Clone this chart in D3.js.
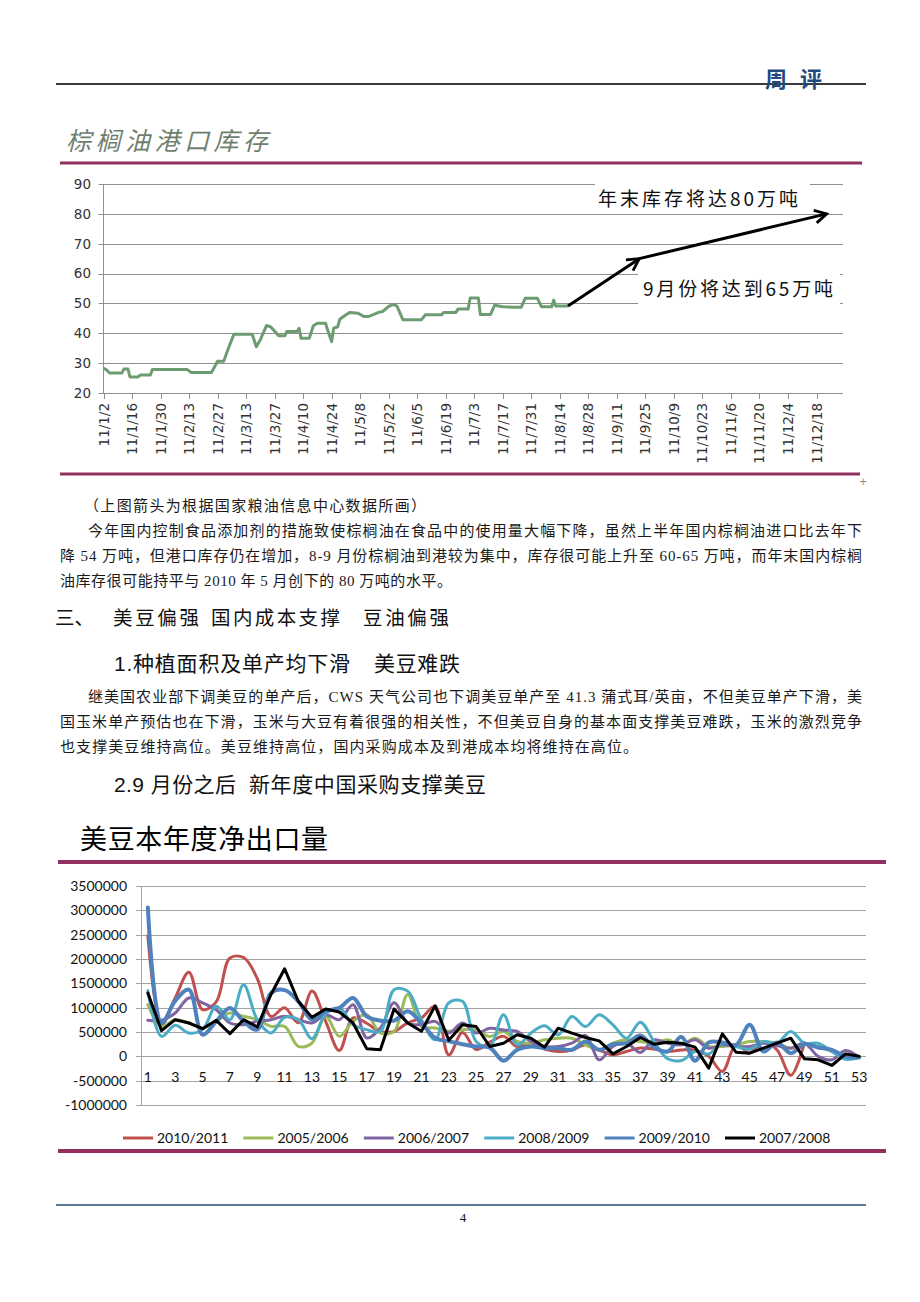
<!DOCTYPE html>
<html><head><meta charset="utf-8">
<script src="https://cdn.jsdelivr.net/npm/d3@7"></script>
<style>body{margin:0;background:#fff}svg{display:block}</style>
</head><body><svg id="page" width="920" height="1302"></svg>
<script>
// ---------- Chart 1: palm oil port stocks (万吨) ----------
const palmDates = ["2011-01-02","2011-01-03","2011-01-05","2011-01-11","2011-01-12","2011-01-14","2011-01-15","2011-01-19","2011-01-20","2011-01-25","2011-01-26","2011-02-12","2011-02-14","2011-02-24","2011-02-27","2011-03-02","2011-03-04","2011-03-07","2011-03-16","2011-03-18","2011-03-20","2011-03-21","2011-03-23","2011-03-25","2011-03-29","2011-04-01","2011-04-02","2011-04-07","2011-04-08","2011-04-09","2011-04-13","2011-04-15","2011-04-17","2011-04-21","2011-04-22","2011-04-24","2011-04-25","2011-04-27","2011-04-28","2011-05-01","2011-05-03","2011-05-07","2011-05-10","2011-05-12","2011-05-15","2011-05-17","2011-05-19","2011-05-22","2011-05-24","2011-05-26","2011-05-29","2011-06-07","2011-06-09","2011-06-17","2011-06-18","2011-06-24","2011-06-25","2011-06-30","2011-07-01","2011-07-05","2011-07-06","2011-07-11","2011-07-13","2011-07-17","2011-07-23","2011-07-26","2011-07-28","2011-08-03","2011-08-05","2011-08-10","2011-08-11","2011-08-12","2011-08-18"];
const palmValues = [28.2,28.0,26.7,26.7,28.0,28.0,25.4,25.4,26.0,26.0,27.9,27.9,26.9,26.9,30.6,30.6,34.4,39.7,39.7,35.5,37.8,39.5,42.6,42.2,39.2,39.2,40.6,40.6,41.7,38.3,38.3,42.5,43.4,43.4,41.1,37.2,41.7,42.2,44.7,46.2,47.0,46.7,45.6,45.6,46.4,47.0,47.3,49.0,49.6,49.2,44.5,44.5,46.2,46.2,47.0,47.0,48.1,48.1,51.8,51.8,46.3,46.3,49.4,48.9,48.7,48.7,51.7,51.7,48.9,48.9,51.1,49.1,49.1];
const palmTickLabels = ["11/1/2","11/1/16","11/1/30","11/2/13","11/2/27","11/3/13","11/3/27","11/4/10","11/4/24","11/5/8","11/5/22","11/6/5","11/6/19","11/7/3","11/7/17","11/7/31","11/8/14","11/8/28","11/9/11","11/9/25","11/10/9","11/10/23","11/11/6","11/11/20","11/12/4","11/12/18"];
const palmYTicks = [20,30,40,50,60,70,80,90];
const arrowDates = ["2011-08-18","2011-09-22","2011-12-23"];
const arrowValues = [49.1,65,80];
const arrowLabels = ["年末库存将达80万吨","9月份将达到65万吨"];

// ---------- Chart 2: US soybean net exports ----------
const weeks = [1,2,3,4,5,6,7,8,9,10,11,12,13,14,15,16,17,18,19,20,21,22,23,24,25,26,27,28,29,30,31,32,33,34,35,36,37,38,39,40,41,42,43,44,45,46,47,48,49,50,51,52,53];
const seriesNames = ["2010/2011","2005/2006","2006/2007","2008/2009","2009/2010","2007/2008"];
const s2010_2011 = [2480000,650000,1200000,1730000,960000,1120000,2020000,2030000,1600000,820000,1000000,690000,1340000,720000,120000,790000,680000,510000,510000,690000,790000,1030000,30000,490000,140000,290000,410000,200000,270000,150000,100000,130000,240000,130000,30000,100000,170000,150000,100000,130000,130000,0,-310000,240000,70000,300000,130000,-390000,280000];
const s2005_2006 = [1060000,616000,753000,685000,582000,719000,890000,822000,753000,616000,616000,205000,274000,822000,411000,719000,856000,480000,514000,1270000,616000,582000,514000,548000,544000,407000,510000,305000,270000,339000,373000,373000,236000,134000,270000,339000,305000,270000,339000,236000,373000,202000,202000,236000,305000,305000,270000,168000,250000,202000,99000,0,-24000];
const s2006_2007 = [740000,740000,890000,1200000,1100000,959000,685000,651000,719000,753000,822000,753000,685000,856000,753000,1060000,377000,582000,1100000,685000,651000,719000,480000,685000,480000,575000,540000,510000,305000,202000,202000,270000,428000,-72000,202000,270000,79000,339000,270000,236000,339000,168000,236000,202000,202000,270000,216000,168000,270000,0,-72000,120000,-24000];
const s2008_2009 = [1350000,411000,637000,480000,548000,1030000,753000,1470000,753000,480000,801000,753000,363000,870000,993000,651000,548000,514000,1370000,1340000,753000,342000,1100000,1130000,305000,202000,853000,236000,476000,627000,442000,818000,613000,853000,647000,373000,702000,305000,-51000,-86000,99000,51000,270000,202000,147000,305000,270000,510000,270000,270000,99000,-58000,-24000];
const s2009_2010 = [3060000,685000,1140000,1370000,445000,719000,993000,719000,548000,1300000,1360000,1130000,753000,925000,993000,1200000,822000,733000,733000,925000,685000,377000,308000,250000,200000,180000,-90000,134000,202000,168000,168000,134000,305000,134000,250000,270000,428000,188000,99000,400000,-90000,284000,284000,236000,647000,99000,284000,65000,250000,181000,134000,0,-24000];
const s2007_2008 = [1300000,527000,753000,685000,568000,740000,466000,753000,603000,1270000,1800000,1130000,801000,973000,911000,685000,158000,137000,973000,685000,514000,1040000,329000,647000,613000,202000,270000,442000,373000,188000,579000,476000,387000,318000,51000,202000,387000,250000,291000,270000,188000,-243000,462000,86000,65000,168000,270000,373000,-51000,-72000,-188000,51000,0];
const soyYTicks = [-1000000,-500000,0,500000,1000000,1500000,2000000,2500000,3000000,3500000];

// ---------- drawing ----------
const svg = d3.select("#page");
svg.append("rect").attr("width",920).attr("height",1302).attr("fill","#fff");
const CJK = "'Noto Sans CJK SC', sans-serif";
const BODY = "'Liberation Serif', 'Noto Sans CJK SC', serif";
const MAROON = "#93305f";

// header
svg.append("line").attr("x1",56).attr("x2",866).attr("y1",84).attr("y2",84).attr("stroke","#3a3a3a").attr("stroke-width",2);
svg.append("text").attr("x",765).attr("y",87).attr("font-family",CJK).attr("font-weight","bold").attr("font-size",22)
  .attr("fill","#1f4a7e").attr("textLength",57).attr("lengthAdjust","spacing").text("周评");

// palm title
svg.append("text").attr("x",66).attr("y",150).attr("font-family",CJK).attr("font-style","italic").attr("font-size",25)
  .attr("fill","#6f7f6f").attr("textLength",202).attr("lengthAdjust","spacing").text("棕榈油港口库存");
svg.append("line").attr("x1",60).attr("x2",862).attr("y1",163).attr("y2",163).attr("stroke",MAROON).attr("stroke-width",3);
svg.append("line").attr("x1",60).attr("x2",860).attr("y1",474).attr("y2",474).attr("stroke",MAROON).attr("stroke-width",3);
svg.append("text").attr("x",859).attr("y",485).attr("font-size",10).attr("fill","#888").attr("font-family","'DejaVu Sans'").text("+");

// chart 1 scales
const parseD = d3.timeParse("%Y-%m-%d");
const x1 = d3.scaleTime().domain([parseD("2011-01-02"), parseD("2011-12-31")]).range([103.5, 843]);
const y1 = d3.scaleLinear().domain([20,90]).range([393,184]);
const g1 = svg.append("g");
g1.selectAll("line.grid").data(palmYTicks).join("line")
  .attr("x1",98.5).attr("x2",843).attr("y1",d=>Math.round(y1(d))+0.5).attr("y2",d=>Math.round(y1(d))+0.5)
  .attr("stroke","#8f8f8f").attr("stroke-width",1);
g1.append("line").attr("x1",103.5).attr("x2",103.5).attr("y1",184).attr("y2",393).attr("stroke","#8f8f8f");
g1.selectAll("text.yl").data(palmYTicks).join("text")
  .attr("x",91).attr("y",d=>y1(d)).attr("dy","0.36em").attr("text-anchor","end")
  .attr("font-family","'DejaVu Sans', sans-serif").attr("font-size",13.5).attr("fill","#333").text(d=>d);
const tickDates = palmTickLabels.map(s=>{const p=s.split("/");return new Date(2000+ +p[0], +p[1]-1, +p[2]);});
g1.selectAll("line.xt").data(tickDates).join("line")
  .attr("x1",d=>Math.round(x1(d))+0.5).attr("x2",d=>Math.round(x1(d))+0.5).attr("y1",393).attr("y2",399)
  .attr("stroke","#8f8f8f");
g1.selectAll("text.xl").data(palmTickLabels).join("text")
  .attr("transform",(d,i)=>`translate(${x1(tickDates[i])+5},403) rotate(-90)`)
  .attr("text-anchor","end").attr("font-family","'DejaVu Sans', sans-serif").attr("font-size",13.5).attr("fill","#333").text(d=>d);
const palmData = palmDates.map((d,i)=>({d:parseD(d),v:palmValues[i]}));
g1.append("path").datum(palmData).attr("fill","none").attr("stroke","#6d9c70").attr("stroke-width",3).attr("stroke-linejoin","round")
  .attr("d",d3.line().x(p=>x1(p.d)).y(p=>y1(p.v)));

// annotation boxes + text
g1.append("rect").attr("x",595).attr("y",178).attr("width",215).attr("height",32).attr("fill","#fff");
g1.append("rect").attr("x",638).attr("y",268).attr("width",202).attr("height",40).attr("fill","#fff");
g1.append("text").attr("x",598).attr("y",206).attr("font-family",CJK).attr("font-size",19).attr("fill","#111")
  .attr("textLength",200).attr("lengthAdjust","spacing").text(arrowLabels[0]);
g1.append("text").attr("x",643).attr("y",296).attr("font-family",CJK).attr("font-size",19).attr("fill","#111")
  .attr("textLength",190).attr("lengthAdjust","spacing").text(arrowLabels[1]);

// arrows
const defs = svg.append("defs");
defs.append("marker").attr("id","arr").attr("viewBox","0 0 14 14").attr("refX",12).attr("refY",7)
  .attr("markerWidth",15).attr("markerHeight",15).attr("markerUnits","userSpaceOnUse").attr("orient","auto")
  .append("path").attr("d","M1,1 L12,7 L1,13").attr("fill","none").attr("stroke","#000").attr("stroke-width",2.6);
const arrowPts = arrowDates.map((d,i)=>[x1(parseD(d)), y1(arrowValues[i])]);
for (let i=0;i<arrowPts.length-1;i++){
  g1.append("line").attr("x1",arrowPts[i][0]).attr("y1",arrowPts[i][1]).attr("x2",arrowPts[i+1][0]).attr("y2",arrowPts[i+1][1])
    .attr("stroke","#000").attr("stroke-width",3).attr("marker-end","url(#arr)");
}

// text body
function line(txt,x,y,size,len,fam,color){
  const t = svg.append("text").attr("x",x).attr("y",y).attr("font-family",fam||BODY).attr("font-size",size).attr("fill",color||"#1a1a1a").text(txt);
  if (len) t.attr("textLength",len).attr("lengthAdjust","spacing");
  return t;
}
line("（上图箭头为根据国家粮油信息中心数据所画）",84,511,15,342);
line("今年国内控制食品添加剂的措施致使棕榈油在食品中的使用量大幅下降，虽然上半年国内棕榈油进口比去年下",88,536,15,774);
line("降 54 万吨，但港口库存仍在增加，8-9 月份棕榈油到港较为集中，库存很可能上升至 60-65 万吨，而年末国内棕榈",60,561,15,802);
line("油库存很可能持平与 2010 年 5 月创下的 80 万吨的水平。",60,586,15,392);

const HEAD = "'Liberation Sans', 'Noto Sans CJK SC', sans-serif";
line("三、",55,625,19.5,null,CJK,"#111");
line("美豆偏强",113,625,19.5,86,HEAD,"#111");
line("国内成本支撑",211,625,19.5,129,HEAD,"#111");
line("豆油偏强",363,625,19.5,86,HEAD,"#111");
line("1.种植面积及单产均下滑",114,671,21,236,HEAD,"#111");
line("美豆难跌",374,671,21,86,HEAD,"#111");
line("继美国农业部下调美豆的单产后，CWS 天气公司也下调美豆单产至 41.3 蒲式耳/英亩，不但美豆单产下滑，美",88,702,15,774);
line("国玉米单产预估也在下滑，玉米与大豆有着很强的相关性，不但美豆自身的基本面支撑美豆难跌，玉米的激烈竞争",60,727,15,802);
line("也支撑美豆维持高位。美豆维持高位，国内采购成本及到港成本均将维持在高位。",60,752,15,578);
line("2.9 月份之后",114,792,21,122,HEAD,"#111");
line("新年度中国采购支撑美豆",249,792,21,237,HEAD,"#111");

// chart 2 title
line("美豆本年度净出口量",80,849,27,248,CJK,"#000");
svg.append("line").attr("x1",58).attr("x2",886).attr("y1",862).attr("y2",862).attr("stroke",MAROON).attr("stroke-width",4);
svg.append("line").attr("x1",58).attr("x2",886).attr("y1",1151).attr("y2",1151).attr("stroke",MAROON).attr("stroke-width",4);

// chart 2
const LAT = "Lato, 'Liberation Sans', sans-serif";
const x2 = d3.scaleBand().domain(weeks).range([141,866]);
const y2 = d3.scaleLinear().domain([-1000000,3500000]).range([1105,886]);
const g2 = svg.append("g");
g2.selectAll("line.grid").data(soyYTicks).join("line")
  .attr("x1",136).attr("x2",866).attr("y1",d=>Math.round(y2(d))+0.5).attr("y2",d=>Math.round(y2(d))+0.5)
  .attr("stroke","#a3a3a3").attr("stroke-width",1);
g2.append("line").attr("x1",141.5).attr("x2",141.5).attr("y1",886).attr("y2",1105.5).attr("stroke","#a3a3a3");
g2.selectAll("text.yl").data(soyYTicks).join("text")
  .attr("x",127).attr("y",d=>y2(d)).attr("dy","0.36em").attr("text-anchor","end")
  .attr("font-family",LAT).attr("font-size",14).attr("fill","#111").text(d=>d);
g2.selectAll("text.xl").data(weeks.filter(w=>w%2===1)).join("text")
  .attr("x",d=>x2(d)+x2.bandwidth()/2).attr("y",1082).attr("text-anchor","middle")
  .attr("font-family",LAT).attr("font-size",14).attr("fill","#111").text(d=>d);

const seriesData = [s2010_2011,s2005_2006,s2006_2007,s2008_2009,s2009_2010,s2007_2008];
const colors = ["#c0504d","#9bbb59","#8064a2","#4bacc6","#4f81bd","#000000"];
const widths = [3,3,3,3,4,3];
seriesData.forEach((vals,si)=>{
  const curve = si===5 ? d3.curveLinear : d3.curveCatmullRom.alpha(0.5);
  g2.append("path").datum(vals).attr("fill","none").attr("stroke",colors[si]).attr("stroke-width",widths[si])
    .attr("stroke-linejoin","round").attr("stroke-linecap","round")
    .attr("d",d3.line().curve(curve).x((v,i)=>x2(weeks[i])+x2.bandwidth()/2).y(v=>y2(v)));
});

// legend
const lg = svg.append("g");
seriesNames.forEach((n,i)=>{
  const x0 = 123 + i*120.4;
  lg.append("line").attr("x1",x0).attr("x2",x0+30).attr("y1",1138).attr("y2",1138).attr("stroke",colors[i]).attr("stroke-width",3);
  lg.append("text").attr("x",x0+34).attr("y",1143).attr("font-family",LAT).attr("font-size",14).attr("fill","#111").text(n);
});

// footer
svg.append("line").attr("x1",56).attr("x2",866).attr("y1",1205).attr("y2",1205).attr("stroke","#5b7896").attr("stroke-width",2);
svg.append("text").attr("x",463).attr("y",1222).attr("text-anchor","middle").attr("font-family","'Liberation Serif', serif").attr("font-size",13).attr("fill","#111").text("4");
</script></body></html>
